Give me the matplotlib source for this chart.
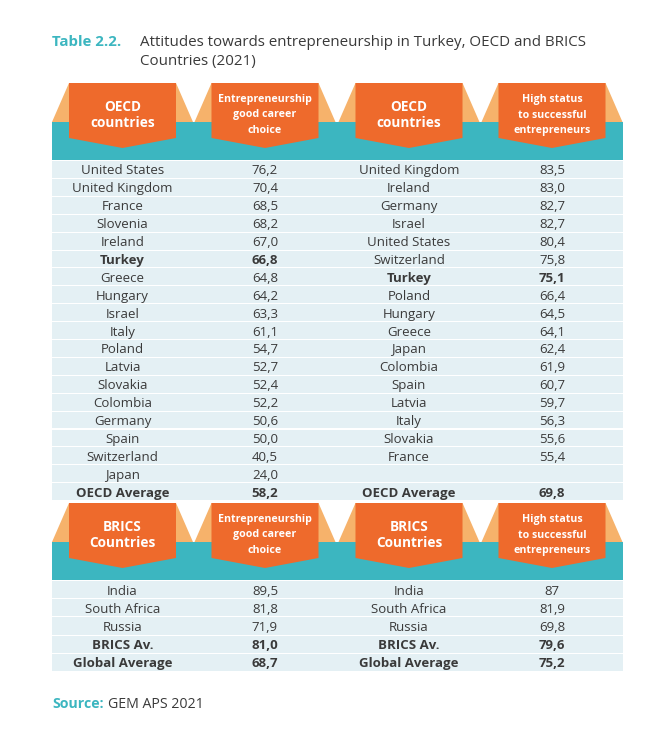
import matplotlib
matplotlib.use("Agg")
import matplotlib.pyplot as plt
from matplotlib.patches import Polygon, Rectangle

# ---------------------------------------------------------------------------
# data
# ---------------------------------------------------------------------------
oecd_career_countries = ["United States", "United Kingdom", "France", "Slovenia", "Ireland",
                         "Turkey", "Greece", "Hungary", "Israel", "Italy", "Poland", "Latvia",
                         "Slovakia", "Colombia", "Germany", "Spain", "Switzerland", "Japan",
                         "OECD Average"]
oecd_career_values = ["76,2", "70,4", "68,5", "68,2", "67,0", "66,8", "64,8", "64,2", "63,3",
                      "61,1", "54,7", "52,7", "52,4", "52,2", "50,6", "50,0", "40,5", "24,0",
                      "58,2"]

oecd_status_countries = ["United Kingdom", "Ireland", "Germany", "Israel", "United States",
                         "Switzerland", "Turkey", "Poland", "Hungary", "Greece", "Japan",
                         "Colombia", "Spain", "Latvia", "Italy", "Slovakia", "France", "",
                         "OECD Average"]
oecd_status_values = ["83,5", "83,0", "82,7", "82,7", "80,4", "75,8", "75,1", "66,4", "64,5",
                      "64,1", "62,4", "61,9", "60,7", "59,7", "56,3", "55,6", "55,4", "",
                      "69,8"]

brics_career_countries = ["India", "South Africa", "Russia", "BRICS Av.", "Global Average"]
brics_career_values = ["89,5", "81,8", "71,9", "81,0", "68,7"]
brics_status_countries = ["India", "South Africa", "Russia", "BRICS Av.", "Global Average"]
brics_status_values = ["87", "81,9", "69,8", "79,6", "75,2"]

bold_names = {"Turkey", "OECD Average", "BRICS Av.", "Global Average"}

oecd_headers = ["OECD\ncountries", "Entrepreneurship\ngood career\nchoice",
                "OECD\ncountries", "High status\nto successful\nentrepreneurs"]
brics_headers = ["BRICS\nCountries", "Entrepreneurship\ngood career\nchoice",
                 "BRICS\nCountries", "High status\nto successful\nentrepreneurs"]

# ---------------------------------------------------------------------------
# style
# ---------------------------------------------------------------------------
DARK_ORANGE = "#ee6a2c"
LIGHT_ORANGE = "#f6b26b"
TEAL = "#3cb6c0"
ROW_BG = "#e4f0f4"
TEXT = "#3a3a3a"
FONT = "Open Sans"

W, H = 671, 744
LEFT, RIGHT = 52, 623
COL_X = [122.5, 265, 409, 552]
BOX_W = 107

fig = plt.figure(figsize=(W / 100, H / 100), dpi=100)
fig.patch.set_facecolor("white")
ax = fig.add_axes([0, 0, 1, 1])
ax.set_xlim(0, W)
ax.set_ylim(H, 0)
ax.axis("off")


def draw_header(top, headers):
    teal_top = top + 39
    teal_bot = top + 77
    ax.add_patch(Rectangle((LEFT, teal_top), RIGHT - LEFT, teal_bot - teal_top,
                           facecolor=TEAL, edgecolor="none", zorder=1))
    for cx, label in zip(COL_X, headers):
        x0, x1 = cx - BOX_W / 2, cx + BOX_W / 2
        # light orange trapezoid behind the box
        ax.add_patch(Polygon([(x0, top), (x1, top), (x1 + 17, teal_top), (x0 - 17, teal_top)],
                             closed=True, facecolor=LIGHT_ORANGE, edgecolor="none", zorder=0.5))
        # pentagon box pointing down
        ax.add_patch(Polygon([(x0, top), (x1, top), (x1, top + 55), (cx, top + 65), (x0, top + 55)],
                             closed=True, facecolor=DARK_ORANGE, edgecolor="none", zorder=2))
        three_lines = label.count("\n") == 2
        fs = 7.7 if three_lines else 9.8
        ls = 1.55 if three_lines else 1.25
        ax.text(cx, top + 32, label, ha="center", va="center", color="white",
                fontsize=fs, fontweight="bold", family=FONT, linespacing=ls, zorder=3)


def draw_rows(top, row_h, n, cols):
    for i in range(n):
        y = top + i * row_h
        ax.add_patch(Rectangle((LEFT, y + 0.5), RIGHT - LEFT, row_h - 1.0,
                               facecolor=ROW_BG, edgecolor="none", zorder=1))
    for cx, (names, vals) in zip([(COL_X[0], COL_X[1]), (COL_X[2], COL_X[3])], cols):
        for i, (name, val) in enumerate(zip(names, vals)):
            y = top + (i + 0.5) * row_h + 1.5
            weight = "bold" if name in bold_names else "normal"
            ax.text(cx[0], y, name, ha="center", va="center", color=TEXT,
                    fontsize=9.5, fontweight=weight, family=FONT, zorder=3)
            ax.text(cx[1], y, val, ha="center", va="center", color=TEXT,
                    fontsize=9.5, fontweight=weight, family=FONT, zorder=3)


# title
ax.text(LEFT, 42, "Table 2.2.", ha="left", va="center", color=TEAL,
        fontsize=10.8, fontweight="bold", family=FONT)
ax.text(140, 42, "Attitudes towards entrepreneurship in Turkey, OECD and BRICS",
        ha="left", va="center", color=TEXT, fontsize=10.9, family=FONT)
ax.text(140, 62, "Countries (2021)", ha="left", va="center", color=TEXT,
        fontsize=10.9, family=FONT)

draw_header(83, oecd_headers)
draw_rows(160.5, 17.9, len(oecd_career_countries),
          [(oecd_career_countries, oecd_career_values),
           (oecd_status_countries, oecd_status_values)])

draw_header(503, brics_headers)
draw_rows(580.5, 18.2, len(brics_career_countries),
          [(brics_career_countries, brics_career_values),
           (brics_status_countries, brics_status_values)])

# source
ax.text(LEFT, 704, "Source:", ha="left", va="center", color=TEAL,
        fontsize=10.2, fontweight="bold", family=FONT)
ax.text(108, 704, "GEM APS 2021", ha="left", va="center", color=TEXT,
        fontsize=10.2, family=FONT)

fig.savefig("out.png", dpi=100, facecolor=fig.get_facecolor())
